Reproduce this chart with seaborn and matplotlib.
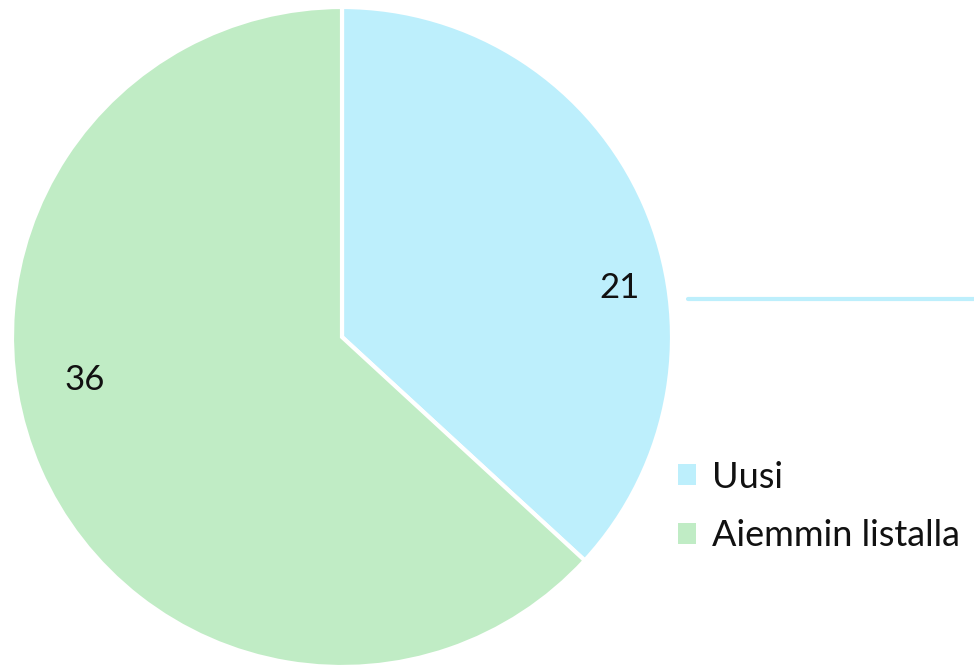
import matplotlib
matplotlib.use("Agg")
import matplotlib.pyplot as plt
import seaborn as sns
from matplotlib.lines import Line2D
from matplotlib.patches import Patch

categories = ["Uusi", "Aiemmin listalla"]
values = [21, 36]
colors = ["#bdeffc", "#c0ecc5"]

sns.set_theme(style="white")
plt.rcParams['font.family'] = ['Lato', 'DejaVu Sans']

fig = plt.figure(figsize=(9.74, 6.67), dpi=100)
ax = fig.add_axes([12 / 974, 0, 660 / 974, 660 / 667])

wedges, texts, autotexts = ax.pie(
    values, colors=colors, startangle=90, counterclock=False,
    autopct=lambda p: f"{round(p * sum(values) / 100):d}", pctdistance=0.85,
    wedgeprops=dict(edgecolor="white", linewidth=3),
    textprops=dict(fontsize=25, color="#111111"))
ax.set_xlim(-1, 1)
ax.set_ylim(-1, 1)
ax.set_aspect("equal")

# labels sit closer to the horizontal than the wedge midpoints
autotexts[0].set_position((0.84, 0.15))
autotexts[1].set_position((-0.78, -0.13))

# stray line to the right of the pie
fig.add_artist(Line2D([688 / 974, 1], [1 - 299 / 667] * 2, color="#bdeffc", linewidth=3))

handles = [Patch(facecolor=c, edgecolor="none") for c in colors]
fig.legend(handles, categories, loc="upper left", bbox_to_anchor=(645 / 974, 1 - 428 / 667),
           frameon=False, handlelength=0.5, handleheight=0.5,
           handletextpad=0.45, labelspacing=0.72, labelcolor="#111111",
           prop=dict(size=26))

fig.savefig("out.png", dpi=100)
